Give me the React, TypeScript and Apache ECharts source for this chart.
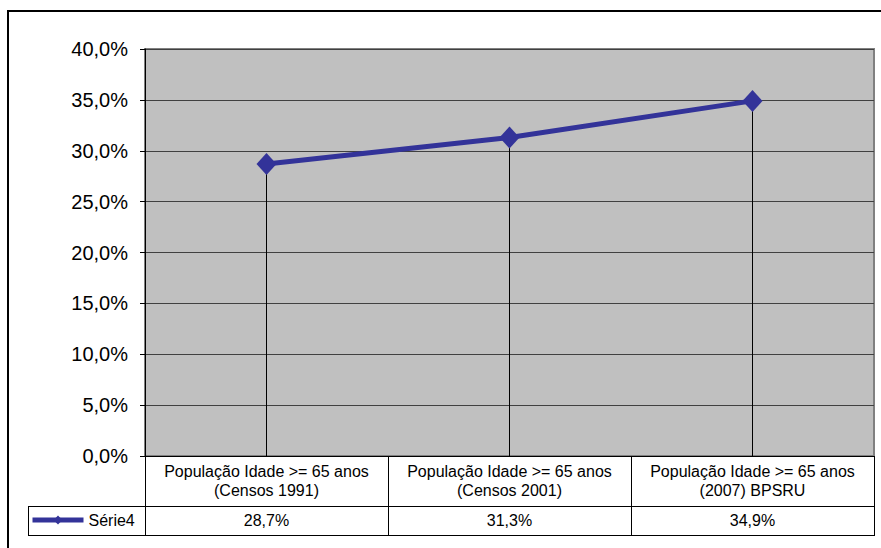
import React, { useEffect, useRef } from "react";
import * as echarts from "echarts";

const categories = [
  "População Idade >= 65 anos\n(Censos 1991)",
  "População Idade >= 65 anos\n(Censos 2001)",
  "População Idade >= 65 anos\n(2007) BPSRU",
];
const values = [28.7, 31.3, 34.9];
const seriesName = "Série4";
const yMin = 0;
const yMax = 40;
const yStep = 5;

const FONT = 'Arial, "Liberation Sans", sans-serif';
const fmt = (v: number) => v.toFixed(1).replace(".", ",") + "%";

// plot area and data-table geometry
const PLOT = { left: 145, top: 49, width: 729, height: 407 };
const ROW1_H = 50;
const ROW2_H = 29;
const LEGEND_LEFT = 28;
const TABLE_FONT = 16;

export default function App() {
  const ref = useRef<HTMLDivElement>(null);

  useEffect(() => {
    if (!ref.current) return;
    const chart = echarts.init(ref.current, undefined, { renderer: "svg" });

    const bottom = PLOT.top + PLOT.height;
    const right = PLOT.left + PLOT.width;
    const colW = PLOT.width / categories.length;
    const r1 = bottom + ROW1_H;
    const r2 = r1 + ROW2_H;
    const tableLines: any[] = [];
    const ln = (x1: number, y1: number, x2: number, y2: number) =>
      tableLines.push({
        type: "line",
        shape: { x1, y1, x2, y2 },
        style: { stroke: "#000", lineWidth: 1 },
        z: 10,
      });
    ln(LEGEND_LEFT, r1 + 0.5, right + 1, r1 + 0.5);
    ln(LEGEND_LEFT, r2 + 0.5, right + 1, r2 + 0.5);
    ln(LEGEND_LEFT + 0.5, r1, LEGEND_LEFT + 0.5, r2);
    for (let i = 0; i <= categories.length; i++) {
      const x = Math.round(PLOT.left + i * colW) + 0.5;
      ln(x, bottom, x, r2);
    }

    chart.setOption({
      animation: false,
      textStyle: { fontFamily: FONT },
      grid: {
        left: PLOT.left,
        top: PLOT.top,
        width: PLOT.width,
        height: PLOT.height,
        show: true,
        backgroundColor: "#c0c0c0",
        borderColor: "#808080",
        borderWidth: 2,
      },
      legend: {
        left: LEGEND_LEFT + 2,
        top: r1 + 6,
        padding: 0,
        itemWidth: 51,
        itemHeight: 11,
        lineStyle: { width: 5 },
        textStyle: { fontSize: TABLE_FONT, color: "#000", fontFamily: FONT },
        data: [seriesName],
      },
      xAxis: [
        {
          type: "category",
          data: categories,
          position: "bottom",
          axisLine: { lineStyle: { color: "#000", width: 1 } },
          axisTick: { show: false },
          axisLabel: {
            color: "#000",
            fontSize: TABLE_FONT,
            lineHeight: 19,
            margin: 6,
            interval: 0,
            fontFamily: FONT,
          },
        },
        {
          type: "category",
          data: values.map(fmt),
          position: "bottom",
          offset: ROW1_H,
          axisLine: { show: false },
          axisTick: { show: false },
          axisLabel: {
            color: "#000",
            fontSize: TABLE_FONT,
            margin: 6,
            interval: 0,
            fontFamily: FONT,
          },
        },
      ],
      yAxis: {
        type: "value",
        min: yMin,
        max: yMax,
        interval: yStep,
        axisLine: { show: true, lineStyle: { color: "#000", width: 1 } },
        axisTick: { show: true, length: 5, lineStyle: { color: "#000" } },
        splitLine: { lineStyle: { color: "#404040", width: 1 } },
        axisLabel: {
          color: "#000",
          fontSize: 20,
          margin: 17,
          fontFamily: FONT,
          formatter: (v: number) => fmt(v),
        },
      },
      series: [
        {
          name: seriesName,
          type: "line",
          data: values,
          symbol: "diamond",
          symbolSize: [20, 22],
          lineStyle: { color: "#333399", width: 5 },
          itemStyle: { color: "#333399" },
          markLine: {
            silent: true,
            symbol: ["none", "none"],
            label: { show: false },
            lineStyle: { color: "#000", width: 1, type: "solid" },
            z: 1,
            data: values.map((v, i) => [
              { coord: [i, v] },
              { coord: [i, 0] },
            ]),
          },
        },
      ],
      graphic: [
        {
          type: "rect",
          shape: { x: 8, y: 11, width: 900, height: 600 },
          style: { fill: "none", stroke: "#000", lineWidth: 2 },
          z: 10,
        },
        ...tableLines,
      ],
    });

    return () => chart.dispose();
  }, []);

  return (
    <div
      ref={ref}
      style={{ position: "fixed", left: 0, top: 0, width: 881, height: 548, background: "#fff" }}
    />
  );
}
